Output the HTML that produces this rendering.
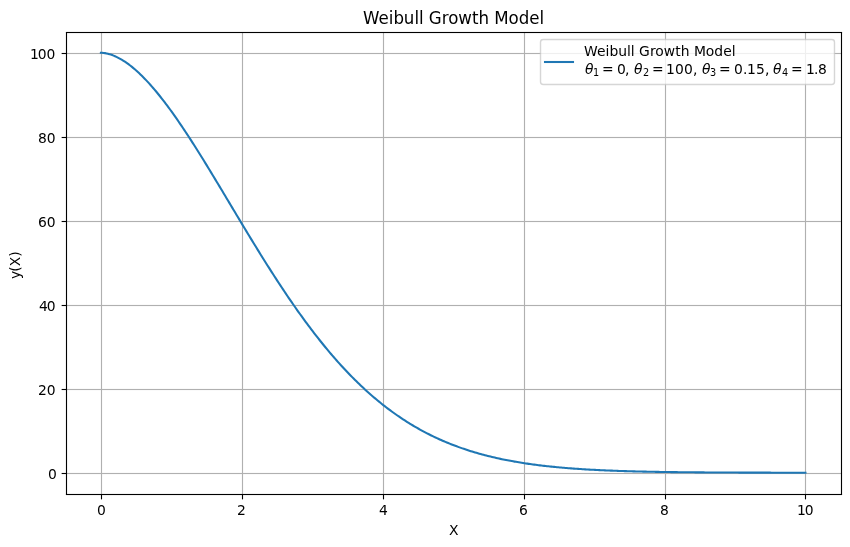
<!DOCTYPE html>
<html lang="en">
<head>
<meta charset="utf-8">
<title>Weibull Growth Model</title>
<style>
html,body{margin:0;padding:0;background:#fff;}
body{width:850px;height:547px;overflow:hidden;}
svg{display:block;font-family:"DejaVu Sans", "Liberation Sans", sans-serif;}
text{fill:#000;}
.t10{font-size:13.8889px;}
.t12{font-size:16.6667px;}
.t7{font-size:9.7222px;}
.it{font-style:oblique;}
.grid line{stroke:#b0b0b0;stroke-width:1.1270;}
.grid rect{fill:#b0b0b0;}
.ticks line,.spines line{stroke:#000;stroke-width:1.1111;}
.ticks rect,.spines rect{fill:#000;}
</style>
</head>
<body>
<svg width="850" height="547" viewBox="0 0 850 547">
<rect x="0" y="0" width="850" height="547" fill="#ffffff"/>

<g class="grid">
<line x1="101.5" y1="32.5" x2="101.5" y2="494.5"/>
<line x1="242.5" y1="32.5" x2="242.5" y2="494.5"/>
<line x1="383.5" y1="32.5" x2="383.5" y2="494.5"/>
<line x1="524.5" y1="32.5" x2="524.5" y2="494.5"/>
<line x1="665.5" y1="32.5" x2="665.5" y2="494.5"/>
<line x1="805.5" y1="32.5" x2="805.5" y2="494.5"/>
<rect x="66.5" y="472.9365" width="775.0" height="1.1270"/>
<rect x="66.5" y="388.9365" width="775.0" height="1.1270"/>
<rect x="66.5" y="304.9365" width="775.0" height="1.1270"/>
<rect x="66.5" y="220.9365" width="775.0" height="1.1270"/>
<rect x="66.5" y="136.9365" width="775.0" height="1.1270"/>
<rect x="66.5" y="52.9365" width="775.0" height="1.1270"/>
</g>
<g class="ticks">
<line x1="101.5" y1="494.5" x2="101.5" y2="499.361"/>
<line x1="242.5" y1="494.5" x2="242.5" y2="499.361"/>
<line x1="383.5" y1="494.5" x2="383.5" y2="499.361"/>
<line x1="524.5" y1="494.5" x2="524.5" y2="499.361"/>
<line x1="665.5" y1="494.5" x2="665.5" y2="499.361"/>
<line x1="805.5" y1="494.5" x2="805.5" y2="499.361"/>
<rect x="61.639" y="472.9444" width="4.861" height="1.1111"/>
<rect x="61.639" y="388.9444" width="4.861" height="1.1111"/>
<rect x="61.639" y="304.9444" width="4.861" height="1.1111"/>
<rect x="61.639" y="220.9444" width="4.861" height="1.1111"/>
<rect x="61.639" y="136.9444" width="4.861" height="1.1111"/>
<rect x="61.639" y="52.9444" width="4.861" height="1.1111"/>
</g>
<polyline points="100.89,52.74 102.30,52.79 103.71,52.93 105.12,53.14 106.54,53.41 107.95,53.74 109.36,54.13 110.77,54.57 112.18,55.07 113.60,55.61 115.01,56.21 116.42,56.86 117.83,57.56 119.24,58.30 120.65,59.08 122.07,59.92 123.48,60.79 124.89,61.71 126.30,62.67 127.71,63.67 129.13,64.71 130.54,65.80 131.95,66.92 133.36,68.08 134.77,69.27 136.19,70.51 137.60,71.78 139.01,73.08 140.42,74.42 141.83,75.80 143.25,77.21 144.66,78.65 146.07,80.12 147.48,81.63 148.89,83.16 150.31,84.73 151.72,86.32 153.13,87.95 154.54,89.60 155.95,91.28 157.36,92.99 158.78,94.72 160.19,96.48 161.60,98.27 163.01,100.08 164.42,101.92 165.84,103.78 167.25,105.66 168.66,107.56 170.07,109.49 171.48,111.44 172.90,113.40 174.31,115.39 175.72,117.40 177.13,119.43 178.54,121.47 179.96,123.54 181.37,125.62 182.78,127.72 184.19,129.83 185.60,131.96 187.01,134.10 188.43,136.26 189.84,138.43 191.25,140.62 192.66,142.82 194.07,145.03 195.49,147.25 196.90,149.49 198.31,151.74 199.72,153.99 201.13,156.26 202.55,158.53 203.96,160.82 205.37,163.11 206.78,165.41 208.19,167.72 209.61,170.03 211.02,172.35 212.43,174.68 213.84,177.01 215.25,179.35 216.67,181.69 218.08,184.03 219.49,186.38 220.90,188.73 222.31,191.09 223.72,193.44 225.14,195.80 226.55,198.16 227.96,200.52 229.37,202.88 230.78,205.24 232.20,207.60 233.61,209.97 235.02,212.32 236.43,214.68 237.84,217.04 239.26,219.39 240.67,221.74 242.08,224.09 243.49,226.43 244.90,228.78 246.32,231.11 247.73,233.44 249.14,235.77 250.55,238.09 251.96,240.41 253.37,242.72 254.79,245.03 256.20,247.33 257.61,249.62 259.02,251.90 260.43,254.18 261.85,256.45 263.26,258.71 264.67,260.97 266.08,263.21 267.49,265.45 268.91,267.68 270.32,269.90 271.73,272.11 273.14,274.31 274.55,276.50 275.97,278.68 277.38,280.85 278.79,283.01 280.20,285.16 281.61,287.29 283.03,289.42 284.44,291.53 285.85,293.64 287.26,295.73 288.67,297.81 290.08,299.88 291.50,301.93 292.91,303.98 294.32,306.01 295.73,308.02 297.14,310.03 298.56,312.02 299.97,314.00 301.38,315.96 302.79,317.91 304.20,319.85 305.62,321.78 307.03,323.69 308.44,325.58 309.85,327.47 311.26,329.34 312.68,331.19 314.09,333.03 315.50,334.86 316.91,336.67 318.32,338.46 319.73,340.25 321.15,342.01 322.56,343.77 323.97,345.51 325.38,347.23 326.79,348.94 328.21,350.63 329.62,352.31 331.03,353.98 332.44,355.62 333.85,357.26 335.27,358.88 336.68,360.48 338.09,362.07 339.50,363.64 340.91,365.20 342.33,366.75 343.74,368.28 345.15,369.79 346.56,371.29 347.97,372.77 349.38,374.24 350.80,375.69 352.21,377.13 353.62,378.56 355.03,379.96 356.44,381.36 357.86,382.74 359.27,384.10 360.68,385.45 362.09,386.78 363.50,388.10 364.92,389.41 366.33,390.70 367.74,391.97 369.15,393.23 370.56,394.48 371.98,395.71 373.39,396.93 374.80,398.13 376.21,399.32 377.62,400.50 379.04,401.66 380.45,402.80 381.86,403.94 383.27,405.06 384.68,406.16 386.09,407.25 387.51,408.33 388.92,409.39 390.33,410.44 391.74,411.48 393.15,412.50 394.57,413.52 395.98,414.51 397.39,415.50 398.80,416.47 400.21,417.43 401.63,418.37 403.04,419.31 404.45,420.23 405.86,421.13 407.27,422.03 408.69,422.91 410.10,423.78 411.51,424.64 412.92,425.49 414.33,426.32 415.74,427.15 417.16,427.96 418.57,428.76 419.98,429.55 421.39,430.32 422.80,431.09 424.22,431.84 425.63,432.59 427.04,433.32 428.45,434.04 429.86,434.75 431.28,435.45 432.69,436.14 434.10,436.82 435.51,437.49 436.92,438.14 438.34,438.79 439.75,439.43 441.16,440.06 442.57,440.68 443.98,441.29 445.40,441.89 446.81,442.47 448.22,443.06 449.63,443.63 451.04,444.19 452.45,444.74 453.87,445.28 455.28,445.82 456.69,446.34 458.10,446.86 459.51,447.37 460.93,447.87 462.34,448.36 463.75,448.85 465.16,449.32 466.57,449.79 467.99,450.25 469.40,450.70 470.81,451.15 472.22,451.58 473.63,452.01 475.05,452.43 476.46,452.85 477.87,453.25 479.28,453.65 480.69,454.05 482.10,454.43 483.52,454.81 484.93,455.18 486.34,455.55 487.75,455.91 489.16,456.26 490.58,456.61 491.99,456.95 493.40,457.28 494.81,457.61 496.22,457.93 497.64,458.24 499.05,458.55 500.46,458.86 501.87,459.16 503.28,459.45 504.70,459.74 506.11,460.02 507.52,460.29 508.93,460.56 510.34,460.83 511.76,461.09 513.17,461.35 514.58,461.60 515.99,461.84 517.40,462.09 518.81,462.32 520.23,462.55 521.64,462.78 523.05,463.00 524.46,463.22 525.87,463.44 527.29,463.65 528.70,463.85 530.11,464.05 531.52,464.25 532.93,464.44 534.35,464.63 535.76,464.82 537.17,465.00 538.58,465.18 539.99,465.35 541.41,465.52 542.82,465.69 544.23,465.86 545.64,466.02 547.05,466.17 548.46,466.33 549.88,466.48 551.29,466.63 552.70,466.77 554.11,466.91 555.52,467.05 556.94,467.18 558.35,467.32 559.76,467.45 561.17,467.57 562.58,467.70 564.00,467.82 565.41,467.94 566.82,468.05 568.23,468.17 569.64,468.28 571.06,468.39 572.47,468.49 573.88,468.60 575.29,468.70 576.70,468.80 578.12,468.90 579.53,468.99 580.94,469.08 582.35,469.17 583.76,469.26 585.17,469.35 586.59,469.43 588.00,469.52 589.41,469.60 590.82,469.68 592.23,469.75 593.65,469.83 595.06,469.90 596.47,469.98 597.88,470.05 599.29,470.11 600.71,470.18 602.12,470.25 603.53,470.31 604.94,470.37 606.35,470.43 607.77,470.49 609.18,470.55 610.59,470.61 612.00,470.66 613.41,470.72 614.82,470.77 616.24,470.82 617.65,470.87 619.06,470.92 620.47,470.97 621.88,471.02 623.30,471.06 624.71,471.11 626.12,471.15 627.53,471.19 628.94,471.23 630.36,471.27 631.77,471.31 633.18,471.35 634.59,471.39 636.00,471.43 637.42,471.46 638.83,471.50 640.24,471.53 641.65,471.56 643.06,471.59 644.48,471.63 645.89,471.66 647.30,471.69 648.71,471.71 650.12,471.74 651.53,471.77 652.95,471.80 654.36,471.82 655.77,471.85 657.18,471.87 658.59,471.90 660.01,471.92 661.42,471.94 662.83,471.97 664.24,471.99 665.65,472.01 667.07,472.03 668.48,472.05 669.89,472.07 671.30,472.09 672.71,472.11 674.13,472.12 675.54,472.14 676.95,472.16 678.36,472.18 679.77,472.19 681.18,472.21 682.60,472.22 684.01,472.24 685.42,472.25 686.83,472.27 688.24,472.28 689.66,472.29 691.07,472.31 692.48,472.32 693.89,472.33 695.30,472.34 696.72,472.35 698.13,472.37 699.54,472.38 700.95,472.39 702.36,472.40 703.78,472.41 705.19,472.42 706.60,472.43 708.01,472.44 709.42,472.45 710.84,472.45 712.25,472.46 713.66,472.47 715.07,472.48 716.48,472.49 717.89,472.49 719.31,472.50 720.72,472.51 722.13,472.52 723.54,472.52 724.95,472.53 726.37,472.54 727.78,472.54 729.19,472.55 730.60,472.55 732.01,472.56 733.43,472.57 734.84,472.57 736.25,472.58 737.66,472.58 739.07,472.59 740.49,472.59 741.90,472.59 743.31,472.60 744.72,472.60 746.13,472.61 747.54,472.61 748.96,472.62 750.37,472.62 751.78,472.62 753.19,472.63 754.60,472.63 756.02,472.63 757.43,472.64 758.84,472.64 760.25,472.64 761.66,472.65 763.08,472.65 764.49,472.65 765.90,472.66 767.31,472.66 768.72,472.66 770.14,472.66 771.55,472.67 772.96,472.67 774.37,472.67 775.78,472.67 777.20,472.67 778.61,472.68 780.02,472.68 781.43,472.68 782.84,472.68 784.25,472.68 785.67,472.69 787.08,472.69 788.49,472.69 789.90,472.69 791.31,472.69 792.73,472.69 794.14,472.70 795.55,472.70 796.96,472.70 798.37,472.70 799.79,472.70 801.20,472.70 802.61,472.70 804.02,472.70 805.43,472.71" fill="none" stroke="#1f77b4" stroke-width="2.0833" stroke-linecap="square" stroke-linejoin="round"/>
<g class="spines">
<line x1="66.5" y1="31.944" x2="66.5" y2="495.056"/>
<line x1="841.5" y1="31.944" x2="841.5" y2="495.056"/>
<rect x="65.944" y="493.9444" width="776.111" height="1.1111"/>
<rect x="65.944" y="31.9444" width="776.111" height="1.1111"/>
</g>
<g class="t10">
<text x="97" y="515">0</text>
<text x="237" y="515">2</text>
<text x="379" y="515">4</text>
<text x="519" y="515">6</text>
<text x="660" y="515">8</text>
<text x="797 804.75" y="515">10</text>
<text x="48" y="479">0</text>
<text x="38 46.75" y="395">20</text>
<text x="39 46.75" y="311">40</text>
<text x="38 46.75" y="227">60</text>
<text x="38 46.75" y="143">80</text>
<text x="30 37.75 46.5" y="59">100</text>
<text x="449" y="535">X</text>
<text transform="translate(20 266) rotate(-90)" x="-13 -5.75 -0.25 9.25" y="0">y(X)</text>
</g>
<text class="t12" transform="translate(0 24) scale(1 1.0833)" x="363 378.5 388.75 393.5 403.75 414.5 419 424 428.75 441.75 448.25 458.25 472 478.5 489 494.25 508.5 518.75 529.25 539.5" y="0">Weibull Growth Model</text>
<rect x="540.5" y="39.5" width="294" height="45" rx="2.778" ry="2.778" fill="#ffffff" stroke="#cccccc" stroke-width="1.3889" opacity="0.8"/>
<line x1="545" y1="62" x2="573" y2="62" stroke="#1f77b4" stroke-width="2.0833" stroke-linecap="square"/>
<g class="t10">
<text x="584 597 605.5 609.5 618.25 627 630.75 635 639 650 655.25 663.75 675.25 680.75 689 694 705.75 714.25 723.25 731.75" y="56">Weibull Growth Model</text>
<text>
<tspan class="it" x="585" y="74">θ</tspan><tspan class="t7" x="593" y="76">1</tspan><tspan x="602" y="74">=</tspan><tspan x="617 625" y="74">0,</tspan><tspan class="it" x="634" y="74">θ</tspan><tspan class="t7" x="643" y="76">2</tspan><tspan x="652" y="74">=</tspan><tspan x="666 675 684 693" y="74">100,</tspan><tspan class="it" x="702" y="74">θ</tspan><tspan class="t7" x="710" y="76">3</tspan><tspan x="719" y="74">=</tspan><tspan x="734 743 747 756 765" y="74">0.15,</tspan><tspan class="it" x="773" y="74">θ</tspan><tspan class="t7" x="782" y="76">4</tspan><tspan x="791" y="74">=</tspan><tspan x="806 814 818" y="74">1.8</tspan>
</text>
</g>
</svg>
</body>
</html>
